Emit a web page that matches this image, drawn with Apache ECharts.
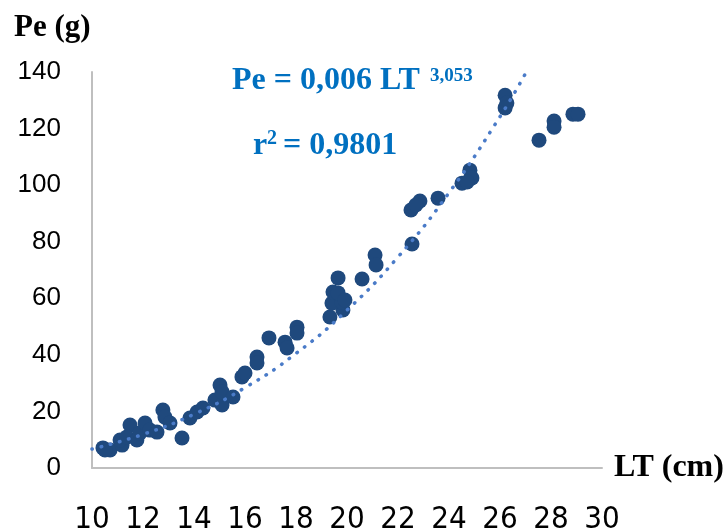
<!DOCTYPE html>
<html>
<head>
<meta charset="utf-8">
<script src="https://cdn.jsdelivr.net/npm/echarts@6/dist/echarts.min.js"></script>
<style>
  html, body { margin: 0; padding: 0; background: #fff; }
  #chart { width: 727px; height: 529px; }
</style>
</head>
<body>
<div id="chart"></div>
<script>
// longueur totale LT (cm) et poids Pe (g)
var lt = [10.43, 10.71, 10.51, 11.18, 11.10, 11.49, 11.37, 11.76, 11.88, 12.08,
  12.27, 12.55, 12.78, 12.86, 13.06, 13.53, 13.84, 14.12, 14.35, 14.82,
  15.10, 15.02, 15.10, 15.53, 15.88, 16.00, 16.47, 16.47, 16.94, 17.57,
  17.65, 18.04, 18.04, 19.33, 19.84, 19.41, 19.80, 19.45, 19.65, 19.65,
  19.92, 20.59, 21.10, 21.14, 22.55, 22.51, 22.86, 22.70, 23.57, 24.51,
  24.82, 24.90, 24.71, 26.20, 26.27, 26.20, 27.53, 28.12, 28.12, 28.86, 29.06];
var pe = [7.1, 6.4, 6.4, 8.1, 9.9, 15.2, 11.0, 9.9, 12.4, 15.9,
  13.4, 12.7, 20.5, 18.0, 15.9, 10.6, 17.7, 19.8, 21.2, 24.0,
  22.3, 29.3, 26.9, 25.1, 32.2, 33.6, 39.2, 37.1, 46.0, 44.5,
  42.4, 49.8, 47.7, 53.4, 55.9, 58.3, 58.7, 62.2, 61.9, 67.2,
  59.4, 66.8, 75.3, 71.8, 79.2, 91.2, 94.4, 93.0, 95.4, 100.7,
  105.3, 102.5, 101.1, 131.8, 129.0, 127.3, 115.9, 122.7, 120.5, 125.1, 125.1];

// courbe de tendance (pointillés)
var trendLt = [10, 12, 14, 16, 18, 20, 22, 24, 26, 27];
var trendPe = [6.7, 11.9, 19.0, 28.4, 40.5, 55.8, 74.6, 97.3, 124.2, 139.5];

var xTicks = [10, 30, 2];   // min, max, pas
var yTicks = [0, 140, 20];

var chart = echarts.init(document.getElementById('chart'));

var points = lt.map(function (v, i) { return [v, pe[i]]; });
var trend = trendLt.map(function (v, i) { return [v, trendPe[i]]; });

var blue = '#0070C0';

var option = {
  animation: false,
  grid: {
    left: 92,
    right: 125,
    top: 72,
    bottom: 61,
    outerBoundsMode: 'none'
  },
  xAxis: {
    type: 'value',
    min: xTicks[0],
    max: xTicks[1],
    interval: xTicks[2],
    axisLine: { show: true, lineStyle: { color: '#BFBFBF', width: 2 } },
    axisTick: { show: false },
    splitLine: { show: false },
    axisLabel: {
      margin: 36,
      color: '#000',
      fontFamily: '"DejaVu Sans Condensed", "Liberation Sans", sans-serif',
      fontSize: 31
    }
  },
  yAxis: {
    type: 'value',
    min: yTicks[0],
    max: yTicks[1],
    interval: yTicks[2],
    axisLine: { show: true, lineStyle: { color: '#BFBFBF', width: 2 } },
    axisTick: { show: false },
    splitLine: { show: false },
    axisLabel: {
      margin: 31,
      color: '#000',
      fontFamily: 'Liberation Sans',
      fontSize: 26
    }
  },
  graphic: [{
    type: 'text',
    left: 14,
    top: 12,
    style: {
      text: 'Pe (g)',
      font: 'bold 31px "Liberation Serif"',
      fill: '#000'
    }
  }, {
    type: 'text',
    left: 614,
    top: 452,
    style: {
      text: 'LT (cm)',
      font: 'bold 32px "Liberation Serif"',
      fill: '#000'
    }
  }, {
    type: 'text',
    left: 232,
    top: 65,
    style: {
      text: 'Pe = 0,006 LT',
      font: 'bold 32px "Liberation Serif"',
      fill: blue
    }
  }, {
    type: 'text',
    left: 430,
    top: 67,
    style: {
      text: '3,053',
      font: 'bold 19px "Liberation Serif"',
      fill: blue
    }
  }, {
    type: 'text',
    left: 253,
    top: 130,
    style: {
      text: 'r',
      font: 'bold 32px "Liberation Serif"',
      fill: blue
    }
  }, {
    type: 'text',
    left: 267,
    top: 129,
    style: {
      text: '2',
      font: 'bold 20px "Liberation Serif"',
      fill: blue
    }
  }, {
    type: 'text',
    left: 283,
    top: 130,
    style: {
      text: '= 0,9801',
      font: 'bold 32px "Liberation Serif"',
      fill: blue
    }
  }],
  series: [{
    name: 'Pe',
    type: 'scatter',
    z: 2,
    symbol: 'circle',
    symbolSize: 15,
    itemStyle: { color: '#1F497D', opacity: 1 },
    data: points
  }, {
    name: 'tendance',
    type: 'line',
    z: 3,
    smooth: true,
    symbol: 'none',
    lineStyle: {
      color: '#4A7BC8',
      width: 3.5,
      type: [0.5, 9],
      cap: 'round'
    },
    data: trend
  }]
};

chart.setOption(option);
</script>
</body>
</html>
